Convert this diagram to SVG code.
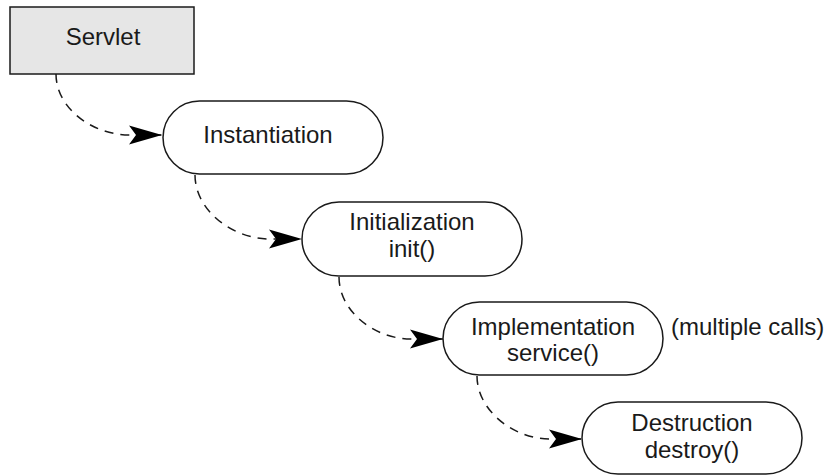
<svg xmlns="http://www.w3.org/2000/svg" width="829" height="476" viewBox="0 0 829 476">
<style>
text{font-family:"Liberation Sans",Arial,sans-serif;font-size:24px;fill:#1a1a1a}
.c{text-anchor:middle}
.pill{fill:#fff;stroke:#1a1a1a;stroke-width:1.5}
.box{fill:#e6e6e6;stroke:#1a1a1a;stroke-width:1.5}
.link{fill:none;stroke:#1a1a1a;stroke-width:1.5;stroke-dasharray:9 7}
</style>
<defs>
<marker id="ah" markerUnits="userSpaceOnUse" markerWidth="36" markerHeight="22" viewBox="0 0 36 22" refX="34" refY="11" orient="auto">
<path d="M34,11 L1,1.5 L8,11 L1,20.5 Z" fill="#000"/>
</marker>
</defs>
<rect width="829" height="476" fill="#fff"/>
<g id="connectors">
<path class="link" d="M56,74 C56,108 92,135 130,135 L162,135" marker-end="url(#ah)"/>
<path class="link" d="M195,175 C195,210 232,239 270,239 L302,239" marker-end="url(#ah)"/>
<path class="link" d="M339,277 C339,311 374,339 411,339 L443,339" marker-end="url(#ah)"/>
<path class="link" d="M477,376 C477,410 513,439 550,439 L582,439" marker-end="url(#ah)"/>
</g>
<g id="servlet">
<rect class="box" x="10" y="7" width="184" height="67"/>
<text class="c" x="103" y="45">Servlet</text>
</g>
<g id="instantiation">
<rect class="pill" x="163" y="101" width="220" height="73" rx="36.5"/>
<text class="c" x="268" y="143">Instantiation</text>
</g>
<g id="initialization">
<rect class="pill" x="302" y="202" width="220" height="74" rx="37"/>
<text class="c" x="412" y="230">Initialization</text>
<text class="c" x="412" y="257">init()</text>
</g>
<g id="implementation">
<rect class="pill" x="443" y="302" width="220" height="73" rx="36.5"/>
<text class="c" x="553" y="335">Implementation</text>
<text class="c" x="553" y="361">service()</text>
</g>
<g id="destruction">
<rect class="pill" x="582" y="402" width="220" height="72" rx="36"/>
<text class="c" x="692" y="431">Destruction</text>
<text class="c" x="692" y="458">destroy()</text>
</g>
<g id="note">
<text x="671" y="335">(multiple calls)</text>
</g>
</svg>
